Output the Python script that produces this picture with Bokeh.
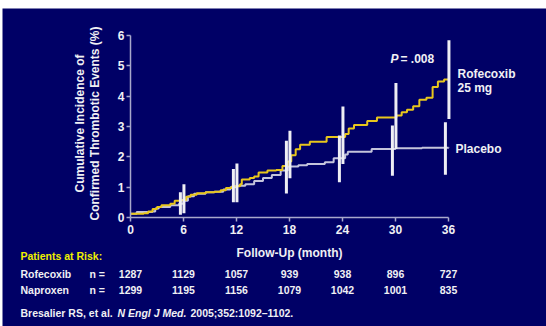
from bokeh.plotting import figure
from bokeh.models import Label, FixedTicker
from bokeh.embed import file_html
from bokeh.resources import INLINE

# ---- data ----
rofe_t = [0, 1.5, 2.0, 2.5, 3.0, 3.5, 4.5, 5.0, 5.8, 6.3, 6.8, 7.5, 8.5, 9.5, 10.2, 10.8, 11.5,
          12.4, 12.6, 13.5, 14.0, 14.5, 15.5, 16.5, 17.2, 17.8, 18.2, 18.7, 19.2, 20.3, 22.2,
          24.3, 24.7, 25.3, 26.8, 27.9, 30.1, 30.7, 31.3, 32.0, 32.7, 33.5, 34.2, 34.8, 35.5, 36.0]
rofe_y = [0.12, 0.14, 0.2, 0.28, 0.35, 0.4, 0.45, 0.55, 0.58, 0.68, 0.75, 0.8, 0.83, 0.85, 0.9,
          0.97, 1.03, 1.1, 1.25, 1.3, 1.35, 1.48, 1.55, 1.57, 1.7, 1.85, 2.05, 2.25, 2.4, 2.5, 2.65,
          2.75, 2.93, 3.05, 3.18, 3.3, 3.36, 3.47, 3.55, 3.67, 3.88, 3.95, 4.3, 4.48, 4.55, 4.57]
plac_t = [0, 0.7, 2.5, 2.8, 3.2, 4.5, 5.5, 6.0, 6.5, 7.2, 8.5, 9.5, 10.5, 11.3, 12.0, 13.0, 14.0,
          15.0, 16.0, 17.0, 17.8, 19.0, 20.0, 22.0, 23.0, 24.3, 24.6, 27.3, 30.0, 33.0, 36.0]
plac_y = [0.12, 0.18, 0.2, 0.3, 0.35, 0.4, 0.45, 0.55, 0.7, 0.78, 0.83, 0.85, 0.92, 1.0, 1.05,
          1.1, 1.2, 1.3, 1.4, 1.55, 1.68, 1.72, 1.76, 1.82, 1.95, 2.08, 2.17, 2.26, 2.28, 2.3, 2.31]

ci_months = [6, 12, 18, 24, 30, 36]
plac_lo = [0.09, 0.5, 0.79, 1.16, 1.38, 1.41]
plac_hi = [0.83, 1.6, 2.53, 2.7, 3.03, 3.14]
rofe_lo = [0.14, 0.5, 1.29, 1.76, 2.26, 3.25]
rofe_hi = [1.1, 1.78, 2.86, 3.66, 4.43, 5.84]

x_ticks = [0, 6, 12, 18, 24, 30, 36]
y_ticks = [0, 1, 2, 3, 4, 5, 6]

risk_months = [0, 6, 12, 18, 24, 30, 36]
risk_rofe = ["1287", "1129", "1057", "939", "938", "896", "727"]
risk_napr = ["1299", "1195", "1156", "1079", "1042", "1001", "835"]

# ---- style ----
BG = "#000066"
YELLOW = "#e8c61c"
GRAY = "#c4c4dc"
AXIS = "#a8a8cc"
WHITE = "#f0f0f4"
FONT = "Liberation Sans"

W, H = 544, 318
OX, OY = 2, 8   # page offset of the figure
# plot area (page px): x 0 -> 130, 36 -> 448 ; y 0 -> 217, 6 -> 35
sx = (448 - 130) / 36.0
sy = (217 - 35) / 6.0
x0c, y0c = 130 - OX, 217 - OY
x_rng = (-x0c / sx, (W - x0c) / sx)
y_rng = (-(H - y0c) / sy, y0c / sy)

p = figure(width=W, height=H, x_range=x_rng, y_range=y_rng,
           output_backend="svg", toolbar_location=None,
           min_border_left=0, min_border_right=0, min_border_top=0, min_border_bottom=0)
p.margin = (OY, 0, 0, OX)
p.background_fill_color = BG
p.border_fill_color = BG
p.outline_line_color = None
p.grid.visible = False

for ax in (p.xaxis[0], p.yaxis[0]):
    ax.fixed_location = 0
    ax.axis_line_color = AXIS
    ax.axis_line_width = 1.5
    ax.major_tick_line_color = AXIS
    ax.major_tick_line_width = 1.5
    ax.major_tick_in = 0
    ax.major_tick_out = 4
    ax.minor_tick_line_color = None
    ax.major_label_text_color = WHITE
    ax.major_label_text_font = FONT
    ax.major_label_text_font_style = "bold"
    ax.major_label_text_font_size = "12px"
p.xaxis.bounds = (0, 36)
p.yaxis.bounds = (0, 6)
p.xaxis.ticker = FixedTicker(ticks=x_ticks)
p.yaxis.ticker = FixedTicker(ticks=y_ticks)
p.xaxis.major_label_standoff = 3
p.yaxis.major_label_standoff = 2

p.step(plac_t, plac_y, mode="after", line_color=GRAY, line_width=2)
p.step(rofe_t, rofe_y, mode="after", line_color=YELLOW, line_width=2)

p.segment([m - 0.35 for m in ci_months], plac_lo, [m - 0.35 for m in ci_months], plac_hi,
          line_color="#eeeef4", line_width=3)
p.segment([m + 0.05 for m in ci_months], rofe_lo, [m + 0.05 for m in ci_months], rofe_hi,
          line_color="#eeeef4", line_width=3)


def lab(text, px, py, size="11px", color=WHITE, style="bold", align="left", angle=0,
        x_data=False):
    p.add_layout(Label(x=px if x_data else px - OX, y=py - OY,
                       x_units="data" if x_data else "canvas", y_units="canvas", text=text,
                       text_font=FONT, text_font_size=size, text_font_style=style,
                       text_color=color, text_align=align, text_baseline="middle",
                       angle=angle))


# axis titles
lab("Cumulative Incidence of", 79, 123, size="12px", align="center", angle=1.5707963)
lab("Confirmed Thrombotic Events (%)", 94, 123, size="12px", align="center", angle=1.5707963)
lab("Follow-Up (month)", 18, 252, size="12px", align="center", x_data=True)

# annotations
lab("P", 390, 58, size="12px", style="bold italic")
lab("= .008", 400, 58, size="12px")
lab("Rofecoxib", 457, 73, size="12px")
lab("25 mg", 457, 87, size="12px")
lab("Placebo", 455, 148, size="12px")

# patients at risk table
TS = "10.5px"
lab("Patients at Risk:", 20, 255, size=TS, color="#f0f000")
lab("Rofecoxib", 20, 273, size=TS)
lab("Naproxen", 20, 289, size=TS)
lab("n =", 89, 273, size=TS)
lab("n =", 89, 289, size=TS)
for m, a, b in zip(risk_months, risk_rofe, risk_napr):
    lab(a, m, 273, size=TS, align="center", x_data=True)
    lab(b, m, 289, size=TS, align="center", x_data=True)

# citation
lab("Bresalier RS, et al.", 20, 312, size=TS)
lab("N Engl J Med.", 117, 312, size=TS, style="bold italic")
lab("2005;352:1092\u20131102.", 190, 312, size=TS)

open("out.html", "w").write(file_html(p, INLINE))
